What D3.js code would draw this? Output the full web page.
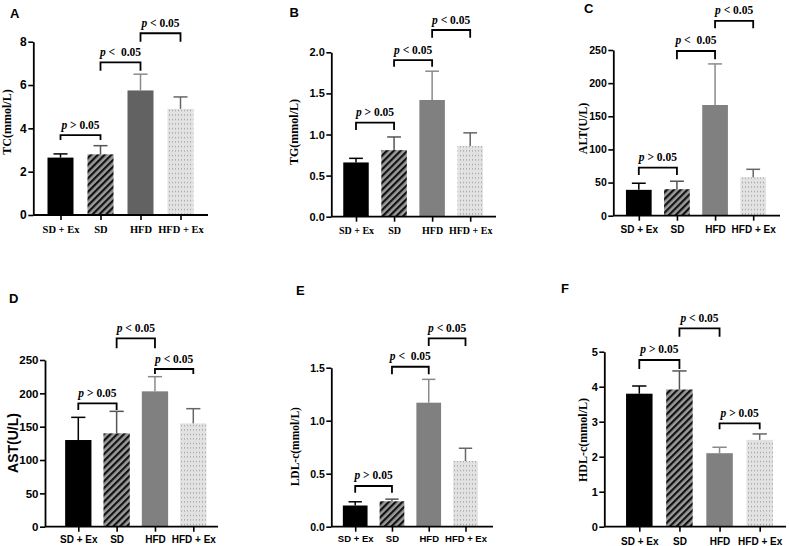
<!DOCTYPE html>
<html><head><meta charset="utf-8">
<script src="https://cdn.jsdelivr.net/npm/d3@7"></script>
<style>body{margin:0;background:#fff}svg{display:block}</style>
</head><body>
<svg id="c" width="789" height="546"></svg>
<script>
// ---------------- data ----------------
const categories = ["SD + Ex", "SD", "HFD", "HFD + Ex"];
const tcMean  = [2.65, 2.80, 5.75, 4.90];  const tcErr  = [0.17, 0.40, 0.75, 0.55];
const tgMean  = [0.66, 0.81, 1.42, 0.86];  const tgErr  = [0.05, 0.16, 0.35, 0.16];
const altMean = [39, 40, 167, 58];         const altErr = [10, 12, 62, 12];
const astMean = [130, 140, 203, 155];      const astErr = [34, 33, 22, 22];
const ldlMean = [0.20, 0.24, 1.17, 0.62];  const ldlErr = [0.035, 0.02, 0.22, 0.12];
const hdlMean = [3.80, 3.92, 2.10, 2.48];  const hdlErr = [0.22, 0.53, 0.17, 0.17];

const tcTicks  = [0, 2, 4, 6, 8];
const tgTicks  = [0, 0.5, 1.0, 1.5, 2.0];
const altTicks = [0, 50, 100, 150, 200, 250];
const astTicks = [0, 50, 100, 150, 200, 250];
const ldlTicks = [0, 0.5, 1.0, 1.5];
const hdlTicks = [0, 1, 2, 3, 4, 5];

// brackets: [from, to, top value, leg bottom value, comparison text]
const tcBrackets  = [[0,1,3.69,3.46,"> 0.05"],[1,2,7.05,6.66,"<  0.05"],[2,3,8.39,8.00,"< 0.05"]];
const tgBrackets  = [[0,1,1.144,1.055,"> 0.05"],[1,2,1.906,1.825,"< 0.05"],[2,3,2.271,2.178,"< 0.05"]];
const altBrackets = [[0,1,72.4,61.4,"> 0.05"],[1,2,248.5,236,"<  0.05"],[2,3,293.8,282.7,"< 0.05"]];
const astBrackets = [[0,1,185,175,"> 0.05"],[1,2,282.5,267.5,"< 0.05"],[2,3,236.5,229,"< 0.05"]];
const ldlBrackets = [[0,1,0.384,0.321,"> 0.05"],[1,2,1.509,1.438,"<  0.05"],[2,3,1.777,1.705,"< 0.05"]];
const hdlBrackets = [[0,1,4.763,4.506,"> 0.05"],[1,2,5.669,5.429,"< 0.05"],[2,3,2.954,2.783,"> 0.05"]];

const yTitles = ["TC(mmol/L)", "TG(mmol/L)", "ALT(U/L)", "AST(U/L)", "LDL-c(mmol/L)", "HDL-c(mmol/L)"];
const letters = ["A", "B", "C", "D", "E", "F"];

// ---------------- layout ----------------
const SERIF = "'Liberation Serif','Times New Roman',serif";
const SANS = "'Liberation Sans',Arial,sans-serif";
const panels = [
  {mean:tcMean, err:tcErr, ticks:tcTicks, br:tcBrackets, fmt:d3.format("d"),
   ax:33.3, xEnd:208, c0:60.5, c3:180.5, bw:26, y0:215, yT:41.7,
   tickFs:12, catFont:SERIF, catFs:10.5, catY:15, hfd:"#626262",
   titleX:7, titleY:122, titleFont:SERIF, titleFs:12, letX:10, letY:18},
  {mean:tgMean, err:tgErr, ticks:tgTicks, br:tgBrackets, fmt:d3.format(".1f"),
   ax:331.3, xEnd:496, c0:356, c3:470.2, bw:25.5, y0:216.7, yT:52.3,
   tickFs:11, catFont:SERIF, catFs:10, catY:14, hfd:"#808080",
   titleX:294, titleY:132, titleFont:SERIF, titleFs:12, letX:289.5, letY:17},
  {mean:altMean, err:altErr, ticks:altTicks, br:altBrackets, fmt:d3.format("d"),
   ax:613.3, xEnd:780, c0:638.8, c3:753.2, bw:25.7, y0:215.7, yT:50,
   tickFs:10.5, catFont:SANS, catFs:10, catY:14, hfd:"#808080",
   titleX:583, titleY:128.5, titleFont:SERIF, titleFs:12, letX:584, letY:13},
  {mean:astMean, err:astErr, ticks:astTicks, br:astBrackets, fmt:d3.format("d"),
   ax:45, xEnd:218, c0:78.3, c3:193.3, bw:26.3, y0:526.7, yT:360,
   tickFs:11.5, catFont:SANS, catFs:10, catY:13.5, hfd:"#808080",
   titleX:13.3, titleY:443, titleFont:SANS, titleFs:14, letX:9, letY:303},
  {mean:ldlMean, err:ldlErr, ticks:ldlTicks, br:ldlBrackets, fmt:d3.format(".1f"),
   ax:331.3, xEnd:493, c0:355.2, c3:465.5, bw:24.7, y0:526.7, yT:367.7,
   tickFs:10.5, catFont:SANS, catFs:9.5, catY:13, hfd:"#808080",
   titleX:295, titleY:446.7, titleFont:SERIF, titleFs:11.5, letX:296, letY:295},
  {mean:hdlMean, err:hdlErr, ticks:hdlTicks, br:hdlBrackets, fmt:d3.format("d"),
   ax:604.3, xEnd:786, c0:639.3, c3:759.7, bw:26.5, y0:526.7, yT:351.7,
   tickFs:11, catFont:SANS, catFs:10, catY:15, hfd:"#808080",
   titleX:583, titleY:440, titleFont:SERIF, titleFs:12, letX:561, letY:293}
];

const svg = d3.select("#c");
const defs = svg.append("defs");
// stripes pattern for SD
const st = defs.append("pattern").attr("id","stripes").attr("patternUnits","userSpaceOnUse")
  .attr("width",4.8).attr("height",4.8).attr("patternTransform","rotate(45)");
st.append("rect").attr("width",4.8).attr("height",4.8).attr("fill","#9a9a9a");
st.append("rect").attr("width",2.2).attr("height",4.8).attr("fill","#111");
// dots pattern for HFD + Ex
const dp = defs.append("pattern").attr("id","dots").attr("patternUnits","userSpaceOnUse")
  .attr("width",3).attr("height",4.5);
dp.append("rect").attr("width",3).attr("height",4.5).attr("fill","#e2e2e2");
dp.append("rect").attr("x",1).attr("y",2).attr("width",1).attr("height",1).attr("fill","#8a8a8a");

panels.forEach((p, pi) => {
  const g = svg.append("g");
  const top = p.ticks[p.ticks.length - 1];
  const y = d3.scaleLinear().domain([0, top]).range([p.y0, p.yT]);
  const x = d3.scalePoint().domain(categories).range([p.c0, p.c3]);
  const fills = ["#000", "url(#stripes)", p.hfd, "url(#dots)"];
  const errCol = ["#000", "#555", "#8a8a8a", "#666"];

  // bars
  g.selectAll("rect.bar").data(p.mean).join("rect").attr("class","bar")
    .attr("x", (d,i) => x(categories[i]) - p.bw/2)
    .attr("width", p.bw)
    .attr("y", d => y(d))
    .attr("height", d => p.y0 - y(d))
    .attr("fill", (d,i) => fills[i]);

  // error bars (upper)
  p.mean.forEach((m, i) => {
    const cx = x(categories[i]);
    const t = y(m + p.err[i]);
    g.append("line").attr("x1",cx).attr("x2",cx).attr("y1",y(m)).attr("y2",t)
      .attr("stroke",errCol[i]).attr("stroke-width",1.5);
    g.append("line").attr("x1",cx - p.bw*0.27).attr("x2",cx + p.bw*0.27).attr("y1",t).attr("y2",t)
      .attr("stroke",errCol[i]).attr("stroke-width",1.5);
  });

  // y axis
  const ya = g.append("g").attr("transform",`translate(${p.ax},0)`)
    .call(d3.axisLeft(y).tickValues(p.ticks).tickFormat(p.fmt).tickSize(5).tickSizeOuter(0).tickPadding(1.5));
  ya.select(".domain").attr("stroke","#000").attr("stroke-width",1.8);
  ya.selectAll(".tick line").attr("stroke","#000").attr("stroke-width",1.6);
  ya.selectAll(".tick text").attr("font-family",SANS).attr("font-weight","bold")
    .attr("font-size",p.tickFs).attr("fill","#000");

  // x axis
  const xa = g.append("g").attr("transform",`translate(0,${p.y0})`)
    .call(d3.axisBottom(x).tickSize(5).tickSizeOuter(0).tickPadding(p.catY - 9));
  xa.select(".domain").remove();
  xa.append("line").attr("x1",p.ax).attr("x2",p.xEnd).attr("y1",0).attr("y2",0)
    .attr("stroke","#000").attr("stroke-width",1.8);
  xa.selectAll(".tick line").attr("stroke","#000").attr("stroke-width",1.6);
  xa.selectAll(".tick text").attr("font-family",p.catFont).attr("font-weight","bold")
    .attr("font-size",p.catFs).attr("fill","#000");

  // brackets
  p.br.forEach(b => {
    const xa1 = x(categories[b[0]]), xb1 = x(categories[b[1]]);
    const yt = y(b[2]), yb = y(b[3]);
    g.append("path").attr("d",`M${xa1},${yb}V${yt}H${xb1}V${yb}`)
      .attr("fill","none").attr("stroke","#000").attr("stroke-width",1.8);
    const t = g.append("text").attr("x",(xa1+xb1)/2).attr("y",yt - 6.5)
      .attr("text-anchor","middle").attr("font-family",SERIF).attr("font-weight","bold")
      .attr("font-size",11.5).attr("fill","#000").attr("xml:space","preserve");
    t.append("tspan").attr("font-style","italic").text("p");
    t.append("tspan").text(" " + b[4]);
  });

  // y title
  g.append("text").attr("transform",`translate(${p.titleX},${p.titleY}) rotate(-90)`)
    .attr("text-anchor","middle").attr("dominant-baseline","central")
    .attr("font-family",p.titleFont).attr("font-weight","bold").attr("font-size",p.titleFs)
    .attr("fill","#000").text(yTitles[pi]);

  // panel letter
  g.append("text").attr("x",p.letX).attr("y",p.letY).attr("font-family",SANS)
    .attr("font-weight","bold").attr("font-size",13).attr("fill","#000").text(letters[pi]);
});
</script>
</body></html>
